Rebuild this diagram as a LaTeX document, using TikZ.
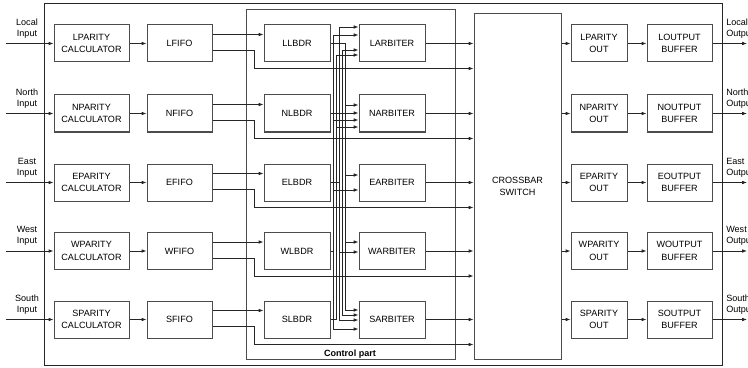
\documentclass[tikz,border=0pt]{standalone}
\usepackage{fontspec}
\setmainfont{Liberation Sans}
\usetikzlibrary{arrows.meta,calc}
\begin{document}
\begin{tikzpicture}[x=0.75pt,y=-0.75pt,
  blk/.style={draw=black!70,line width=0.75pt,minimum height=27.75pt,inner sep=0pt,align=center,font=\fontsize{6.8}{9.3}\selectfont},
  wpar/.style={blk,minimum width=56.25pt},
  wfifo/.style={blk,minimum width=48.75pt},
  wlb/.style={blk,minimum width=49.5pt},
  wpo/.style={blk,minimum width=42pt},
  lbl/.style={align=center,inner sep=0pt,font=\fontsize{6.8}{8.3}\selectfont},
  wire/.style={draw=black!85,line width=0.6pt},
  arr/.style={wire,-{Latex[length=3.6pt,width=2.7pt]}}
]
\useasboundingbox (0,0) rectangle (748,367);
% outer frame
\node[draw=black!85,line width=0.75pt,minimum width=508.5pt,minimum height=270.75pt,inner sep=0pt] (frame) at (383,184.5) {};
% control part
\node[draw=black!70,line width=0.75pt,minimum width=156.75pt,minimum height=261.75pt,inner sep=0pt] (ctrl) at (350.5,184.5) {};
\node[font=\bfseries\fontsize{6.8}{8}\selectfont,inner sep=0pt] (ctrllbl) at (350,354) {Control part};
% crossbar
\node[blk,minimum width=65.25pt,minimum height=258.75pt] (CB) at (517.5,186.5) {CROSSBAR\\SWITCH};

\foreach \r/\n/\c in {L/Local/43.5, N/North/113.5, E/East/182.5, W/West/251, S/South/319.5}{
  \node[wpar] (\r PAR) at (91.5,\c) {\r PARITY\\CALCULATOR};
  \node[wfifo] (\r FIFO) at (179.5,\c) {\r FIFO};
  \node[wlb] (\r LBDR) at (297,\c) {\r LBDR};
  \node[wlb] (\r ARB) at (392,\c) {\r ARBITER};
  \node[wpo] (\r PO) at (599,\c) {\r PARITY\\OUT};
  \node[wfifo] (\r OB) at (679.5,\c) {\r OUTPUT\\BUFFER};
  \node[lbl] (\r inl) at (27,\c-15) {\n\\Input};
  \node[lbl,anchor=west,align=left] (\r outl) at (726,\c-15) {\n\\Output};
  \coordinate (\r in) at (6,\c);
  \coordinate (\r out) at (747,\c);
  \coordinate (\r bend) at (254,\c);
  \draw[arr] (\r in) -- (\r PAR.west);
  \draw[arr] (\r PAR.east) -- (\r FIFO.west);
  \draw[arr] ($(\r FIFO.east)+(0,-9)$) -- ($(\r LBDR.west)+(0,-9)$);
  \draw[arr] ($(\r FIFO.east)+(0,7)$) -- ($(\r bend)+(0,7)$) -- ($(\r bend)+(0,25)$) -- ($(CB.west |- \r bend)+(0,25)$);
  \draw[arr] (\r ARB.east) -- (CB.west |- \r ARB.east);
  \draw[arr] (CB.east |- \r PO.west) -- (\r PO.west);
  \draw[arr] (\r PO.east) -- (\r OB.west);
  \draw[arr] (\r OB.east) -- (\r out);
}
% bus lines
\coordinate (bL) at (345,0);
\coordinate (bN) at (342,0);
\coordinate (bE) at (339,0);
\coordinate (bS) at (336,0);
\coordinate (bW) at (333,0);
\draw[wire] (LLBDR.east) -- (LLBDR.east -| bL);
\draw[wire] (NLBDR.east) -- (NLBDR.east -| bN);
\draw[wire] (ELBDR.east) -- (ELBDR.east -| bE);
\draw[wire] (WLBDR.east) -- (WLBDR.east -| bW);
\draw[wire] (SLBDR.east) -- (SLBDR.east -| bS);
\draw[wire] (345,43.5) -- (345,310);
\draw[wire] (342,50) -- (342,315);
\draw[wire] (339,27) -- (339,320);
\draw[wire] (333,35) -- (333,329);
\draw[wire] (336,55) -- (336,319.5);
\foreach \b/\a/\d in {bE/LARB/-16.5, bW/LARB/-8.5, bN/LARB/6.5, bS/LARB/11.5,
                      bL/NARB/-8.5, bE/NARB/-0.5, bW/NARB/6.5, bS/NARB/13.5,
                      bL/EARB/-7.5, bW/EARB/7.5,
                      bL/WARB/-9, bE/WARB/1,
                      bL/SARB/-9.5, bN/SARB/-4.5, bE/SARB/0.5, bW/SARB/9.5}{
  \path (\a.west) ++(0,\d) coordinate (t);
  \draw[arr] (t -| \b) -- (t);
}
\end{tikzpicture}
\end{document}
